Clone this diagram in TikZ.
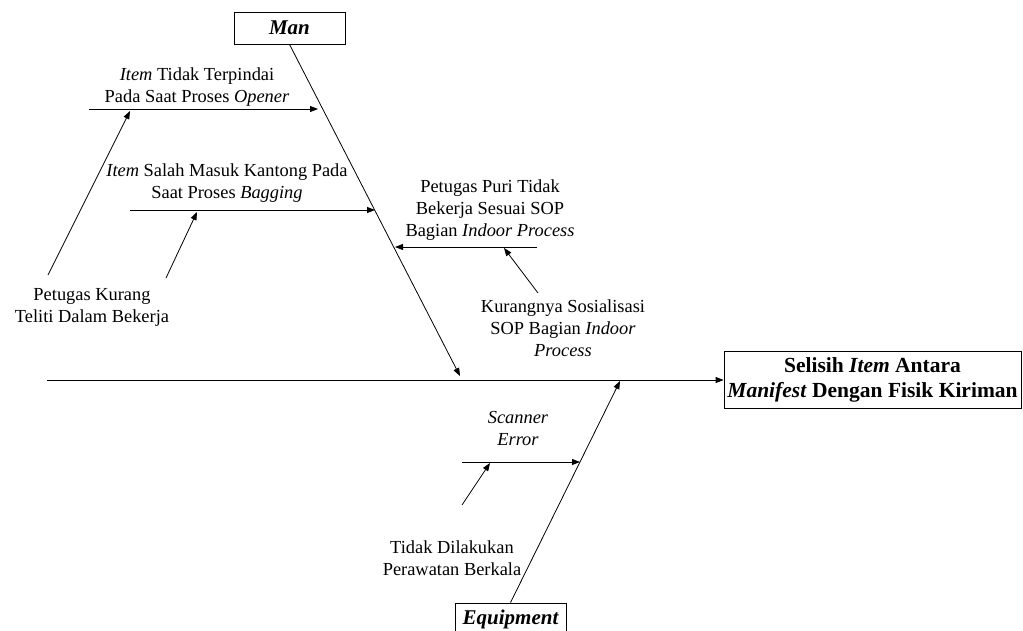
\documentclass[tikz,border=0pt]{standalone}
\usepackage{fontspec}
\setmainfont{Liberation Serif}
\usetikzlibrary{arrows.meta}

\begin{document}
\begin{tikzpicture}[
  x=1pt, y=-1pt,
  category/.style={rectangle, draw, line width=0.8pt, minimum width=111pt,
    minimum height=32pt, inner sep=0pt,
    font=\fontsize{21}{25}\selectfont\bfseries\itshape},
  effect/.style={rectangle, draw, line width=0.8pt, minimum width=297pt,
    minimum height=57pt, inner sep=0pt, align=center,
    font=\fontsize{21.5}{25}\selectfont\bfseries},
  cause/.style={align=center, inner sep=0pt,
    font=\fontsize{18.4}{22}\selectfont},
  arrow/.style={-{Triangle[length=8pt, width=6pt]}, line width=0.8pt}
]
  \useasboundingbox (0,0) rectangle (1023,630);

  \node[category] (man) at (289.5,28) {Man};
  \node[category] (equip) at (510.5,619) {Equipment};
  \node[effect] (head) at (872.5,380) {Selisih \textit{Item} Antara\\\textit{Manifest} Dengan Fisik Kiriman};

  \node[cause] (opener) at (197,87) {\textit{Item} Tidak Terpindai\\Pada Saat Proses \textit{Opener}};
  \node[cause] (bagging) at (227,183) {\textit{Item} Salah Masuk Kantong Pada\\Saat Proses \textit{Bagging}};
  \node[cause] (teliti) at (92,307) {Petugas Kurang\\Teliti Dalam Bekerja};
  \node[cause] (puri) at (490,210) {Petugas Puri Tidak\\Bekerja Sesuai SOP\\Bagian \textit{Indoor Process}};
  \node[cause] (sosial) at (563,328) {Kurangnya Sosialisasi\\SOP Bagian \textit{Indoor}\\\textit{Process}};
  \node[cause] (scanner) at (518,428) {\textit{Scanner}\\\textit{Error}};
  \node[cause] (rawat) at (452,558) {Tidak Dilakukan\\Perawatan Berkala};

  \coordinate (tail) at (47,380);
  \coordinate (manend) at (460,376);
  \coordinate (equipend) at (620,381);
  \coordinate (openerS) at (89,109);
  \coordinate (openerE) at (318,109);
  \coordinate (baggingS) at (130,210);
  \coordinate (baggingE) at (375,210);
  \coordinate (puriS) at (537,247);
  \coordinate (puriE) at (395,247);
  \coordinate (scannerS) at (462,462);
  \coordinate (scannerE) at (580,462);
  \coordinate (teliti1) at (48,275);
  \coordinate (teliti2) at (130,111);
  \coordinate (teliti3) at (166,278);
  \coordinate (teliti4) at (197,212);
  \coordinate (sosialS) at (538,293);
  \coordinate (sosialE) at (504,248);
  \coordinate (rawatS) at (462,505);
  \coordinate (rawatE) at (490,463);

  \draw[arrow] (tail) -- (head.west);
  \draw[arrow] (man.south) -- (manend);
  \draw[arrow] (equip.north) -- (equipend);

  \draw[arrow] (openerS) -- (openerE);
  \draw[arrow] (baggingS) -- (baggingE);
  \draw[arrow] (puriS) -- (puriE);
  \draw[arrow] (scannerS) -- (scannerE);

  \draw[arrow] (teliti1) -- (teliti2);
  \draw[arrow] (teliti3) -- (teliti4);
  \draw[arrow] (sosialS) -- (sosialE);
  \draw[arrow] (rawatS) -- (rawatE);
\end{tikzpicture}
\end{document}
